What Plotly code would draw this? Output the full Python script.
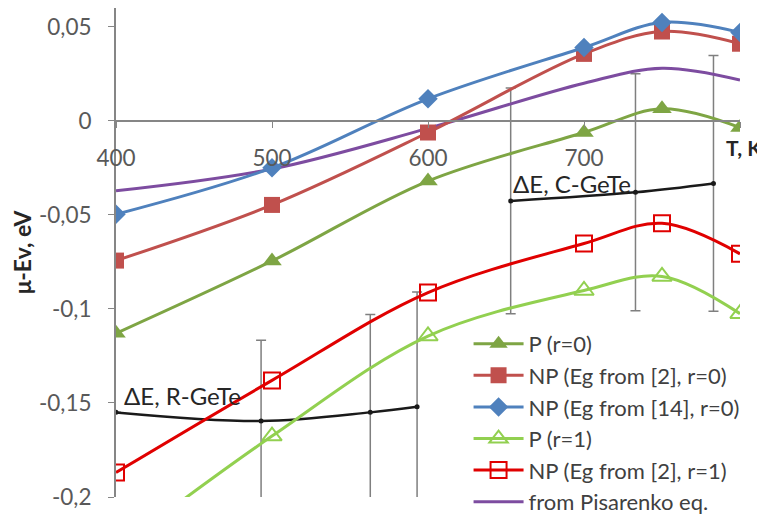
import plotly.graph_objects as go

T = [400, 500, 600, 700, 750, 800]

p_r0 = [-0.113, -0.0745, -0.032, -0.0062, 0.0064, -0.0036]
np2_r0 = [-0.0743, -0.0447, -0.0062, 0.0356, 0.0475, 0.041]
np14_r0 = [-0.0497, -0.025, 0.0117, 0.039, 0.0523, 0.047]
p_r1 = [-0.228, -0.1676, -0.1144, -0.0902, -0.0827, -0.1025]
np2_r1 = [-0.187, -0.138, -0.0913, -0.0652, -0.0545, -0.0707]
pisarenko = [-0.0372, -0.0256, -0.004, 0.020, 0.028, 0.0217]

# Delta E bands
T_r = [400, 493, 563, 593]
dE_r = [-0.155, -0.1596, -0.155, -0.152]
dE_r_err = [0.0, 0.043, 0.052, 0.061]
T_c = [653, 733, 783]
dE_c = [-0.0426, -0.038, -0.0333]
dE_c_err = [0.060, 0.063, 0.068]

names = ["P (r=0)", "NP (Eg from [2], r=0)", "NP (Eg from [14], r=0)",
         "P (r=1)", "NP (Eg from [2], r=1)", "from Pisarenko eq."]

y_tickvals = [-0.2, -0.15, -0.1, -0.05, 0, 0.05]
y_ticktext = ["-0,2", "-0,15", "-0,1", "-0,05", "0", "0,05"]
x_tickvals = [400, 500, 600, 700, 800]
x_ticktext = ["400", "500", "600", "700", ""]

FONT = "Lato"
fig = go.Figure()

err_style = dict(type="data", symmetric=True, color="#7f7f7f", thickness=1.5, width=5)

fig.add_trace(go.Scatter(x=T_r, y=dE_r, mode="lines+markers", line=dict(color="#1a1a1a", width=2.5, shape="spline"),
                         marker=dict(size=5, color="#1a1a1a"), showlegend=False,
                         error_y=dict(array=dE_r_err, **err_style)))
fig.add_trace(go.Scatter(x=T_c, y=dE_c, mode="lines+markers", line=dict(color="#1a1a1a", width=2.5, shape="spline"),
                         marker=dict(size=5, color="#1a1a1a"), showlegend=False,
                         error_y=dict(array=dE_c_err, **err_style)))

series = [
    (pisarenko, names[5], "#7D4CA0", dict(symbol="circle", size=1, opacity=0), "lines", 6),
    (p_r1, names[3], "#92D050", dict(symbol="triangle-up-open", size=17, line=dict(width=2)), "lines+markers", 4),
    (np2_r1, names[4], "#E00000", dict(symbol="square-open", size=16, line=dict(width=2)), "lines+markers", 5),
    (p_r0, names[0], "#7EA544", dict(symbol="triangle-up", size=17), "lines+markers", 1),
    (np2_r0, names[1], "#C0504D", dict(symbol="square", size=16), "lines+markers", 2),
    (np14_r0, names[2], "#4F81BD", dict(symbol="diamond", size=15), "lines+markers", 3),
]
for ys, nm, col, mk, mode, rank in series:
    mk = dict(mk)
    mk["color"] = col
    if "line" in mk:
        mk["line"]["color"] = col
    fig.add_trace(go.Scatter(x=T, y=ys, name=nm, mode=mode, legendrank=rank,
                             line=dict(color=col, width=3, shape="spline"), marker=mk))

fig.add_annotation(x=653, y=-0.0334, text="ΔE, C-GeTe", showarrow=False, xanchor="left", yanchor="middle",
                   font=dict(family=FONT, size=24, color="#262626"))
fig.add_annotation(x=404, y=-0.146, text="ΔE, R-GeTe", showarrow=False, xanchor="left", yanchor="middle",
                   font=dict(family=FONT, size=24, color="#262626"))
fig.add_annotation(xref="paper", x=(756 - 108) / 624, y=-0.0143, text="<b>T, K</b>", showarrow=False,
                   xanchor="right", yanchor="middle", font=dict(family=FONT, size=21, color="#262626"))

fig.update_layout(
    width=757, height=507,
    margin=dict(l=108, r=25, t=0, b=18, pad=0, autoexpand=False),
    paper_bgcolor="white", plot_bgcolor="white",
    font=dict(family=FONT, size=22, color="#404040"),
    legend=dict(x=0.565, y=-0.053, xanchor="left", yanchor="bottom", bgcolor="rgba(0,0,0,0)",
                itemwidth=50, font=dict(family=FONT, size=22, color="#404040")),
    xaxis=dict(range=[400, 800], tickvals=x_tickvals, ticktext=x_ticktext, anchor="free", position=0.2 / 0.26,
               showline=True, linecolor="#868686", linewidth=2, ticks="outside", ticklen=6, tickcolor="#868686",
               ticklabelstandoff=11, showgrid=False, zeroline=False, automargin=False,
               tickfont=dict(family=FONT, size=22.5, color="#595959")),
    yaxis=dict(range=[-0.2, 0.06], tickvals=y_tickvals, ticktext=y_ticktext, showline=True, linecolor="#868686",
               linewidth=2, ticks="outside", ticklen=6, tickcolor="#868686", ticklabelstandoff=12,
               showgrid=False, zeroline=False, automargin=False, tickfont=dict(family=FONT, size=22.5, color="#595959"),
               title=dict(text="<b>μ-Ev, eV</b>", font=dict(family=FONT, size=23, color="#262626"), standoff=6)),
)

fig.write_html("out.html")
